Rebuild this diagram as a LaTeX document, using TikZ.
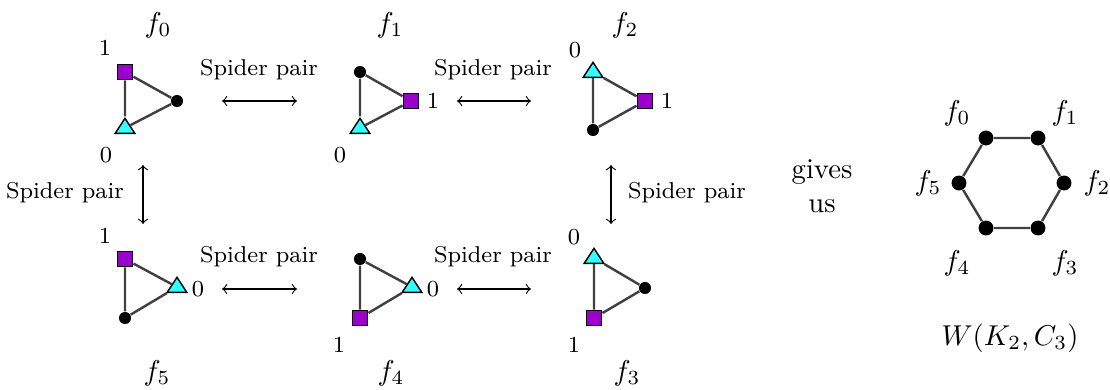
\documentclass[tikz,border=0pt]{standalone}
\usetikzlibrary{shapes.geometric}
\definecolor{sqpurple}{RGB}{153,0,204}
\definecolor{tricyan}{RGB}{51,255,255}
\definecolor{edgegray}{RGB}{64,64,64}
\begin{document}
\begin{tikzpicture}[x=0.3485pt,y=-0.3485pt,
  sq/.style={rectangle,draw=black,fill=sqpurple,minimum size=5.4pt,inner sep=0pt,line width=0.5pt},
  tri/.style={isosceles triangle,isosceles triangle stretches,shape border rotate=90,draw=black,fill=tricyan,minimum width=6.8pt,minimum height=5.2pt,inner sep=0pt,line width=0.5pt},
  bdot/.style={circle,fill=black,minimum size=4.2pt,inner sep=0pt},
  hdot/.style={circle,fill=black,minimum size=5.2pt,inner sep=0pt},
  gedge/.style={draw=edgegray,line width=0.85pt},
  num/.style={font=\footnotesize,inner sep=0pt},
  sp/.style={font=\footnotesize,inner sep=0pt},
  flab/.style={inner sep=0pt},
  arr/.style={<->,line width=0.4pt}]
\useasboundingbox (0,0) rectangle (1110,389);

% f0
\node[sq] (S0) at (125,72) {};
\node[bdot] (C0) at (177,101) {};
\node[tri] (T0) at (125,128) {};
\draw[gedge] (S0) -- (C0) (C0) -- (T0) (T0) -- (S0);
\node[num] (n01) at (105,48) {1};
\node[num] (n00) at (106,155) {0};
\node[flab] (F0) at (158,25) {$f_0$};

% f1
\node[bdot] (C1) at (360,72) {};
\node[sq] (S1) at (411,101) {};
\node[tri] (T1) at (360,128) {};
\draw[gedge] (C1) -- (S1) (S1) -- (T1) (T1) -- (C1);
\node[num] (n11) at (433,101) {1};
\node[num] (n10) at (340,155) {0};
\node[flab] (F1) at (390,25) {$f_1$};

% f2
\node[tri] (T2) at (593,72) {};
\node[sq] (S2) at (645,101) {};
\node[bdot] (C2) at (593,130) {};
\draw[gedge] (T2) -- (S2) (S2) -- (C2) (C2) -- (T2);
\node[num] (n20) at (575,50) {0};
\node[num] (n21) at (667,101) {1};
\node[flab] (F2) at (625,25) {$f_2$};

% f5
\node[sq] (S5) at (125,259) {};
\node[tri] (T5) at (177,287) {};
\node[bdot] (C5) at (125,318) {};
\draw[gedge] (S5) -- (T5) (T5) -- (C5) (C5) -- (S5);
\node[num] (n51) at (105,236) {1};
\node[num] (n50) at (198,289) {0};
\node[flab] (F5) at (157,373) {$f_5$};

% f4
\node[bdot] (C4) at (360,259) {};
\node[tri] (T4) at (412,287) {};
\node[sq] (S4) at (360,318) {};
\draw[gedge] (C4) -- (T4) (T4) -- (S4) (S4) -- (C4);
\node[num] (n40) at (433,289) {0};
\node[num] (n41) at (339,345) {1};
\node[flab] (F4) at (391,373) {$f_4$};

% f3
\node[tri] (T3) at (594,258) {};
\node[bdot] (C3) at (645,288) {};
\node[sq] (S3) at (594,318) {};
\draw[gedge] (T3) -- (C3) (C3) -- (S3) (S3) -- (T3);
\node[num] (n30) at (574,237) {0};
\node[num] (n31) at (574,345) {1};
\node[flab] (F3) at (627,373) {$f_3$};

% arrows
\coordinate (a1s) at (222,101); \coordinate (a1e) at (297,101);
\coordinate (a2s) at (457,101); \coordinate (a2e) at (531,101);
\coordinate (a3s) at (222,289); \coordinate (a3e) at (297,289);
\coordinate (a4s) at (457,289); \coordinate (a4e) at (531,289);
\coordinate (v1s) at (143,165); \coordinate (v1e) at (143,224);
\coordinate (v2s) at (611,165); \coordinate (v2e) at (611,224);
\draw[arr] (a1s) -- (a1e);
\draw[arr] (a2s) -- (a2e);
\draw[arr] (a3s) -- (a3e);
\draw[arr] (a4s) -- (a4e);
\draw[arr] (v1s) -- (v1e);
\draw[arr] (v2s) -- (v2e);
\node[sp] (L1) at (259,70) {Spider pair};
\node[sp] (L2) at (493,70) {Spider pair};
\node[sp] (L3) at (259,257) {Spider pair};
\node[sp] (L4) at (493,257) {Spider pair};
\node[sp] (L5) at (65,193) {Spider pair};
\node[sp] (L6) at (687,193) {Spider pair};

% gives us
\node[align=center,inner sep=0pt] (gives) at (822,186) {gives\\us};

% hexagon
\node[hdot] (H0) at (986,138) {};
\node[hdot] (H1) at (1038,138) {};
\node[hdot] (H2) at (1064,183) {};
\node[hdot] (H3) at (1038,228) {};
\node[hdot] (H4) at (986,228) {};
\node[hdot] (H5) at (959,183) {};
\draw[gedge] (H0) -- (H1) (H1) -- (H2) (H2) -- (H3) (H3) -- (H4) (H4) -- (H5) (H5) -- (H0);
\node[flab] (h0) at (957,113) {$f_0$};
\node[flab] (h1) at (1065,113) {$f_1$};
\node[flab] (h2) at (1097,183) {$f_2$};
\node[flab] (h3) at (1065,263) {$f_3$};
\node[flab] (h4) at (957,263) {$f_4$};
\node[flab] (h5) at (928,183) {$f_5$};
\node[inner sep=0pt] (W) at (1010,338) {$W(K_2,C_3)$};
\end{tikzpicture}
\end{document}
